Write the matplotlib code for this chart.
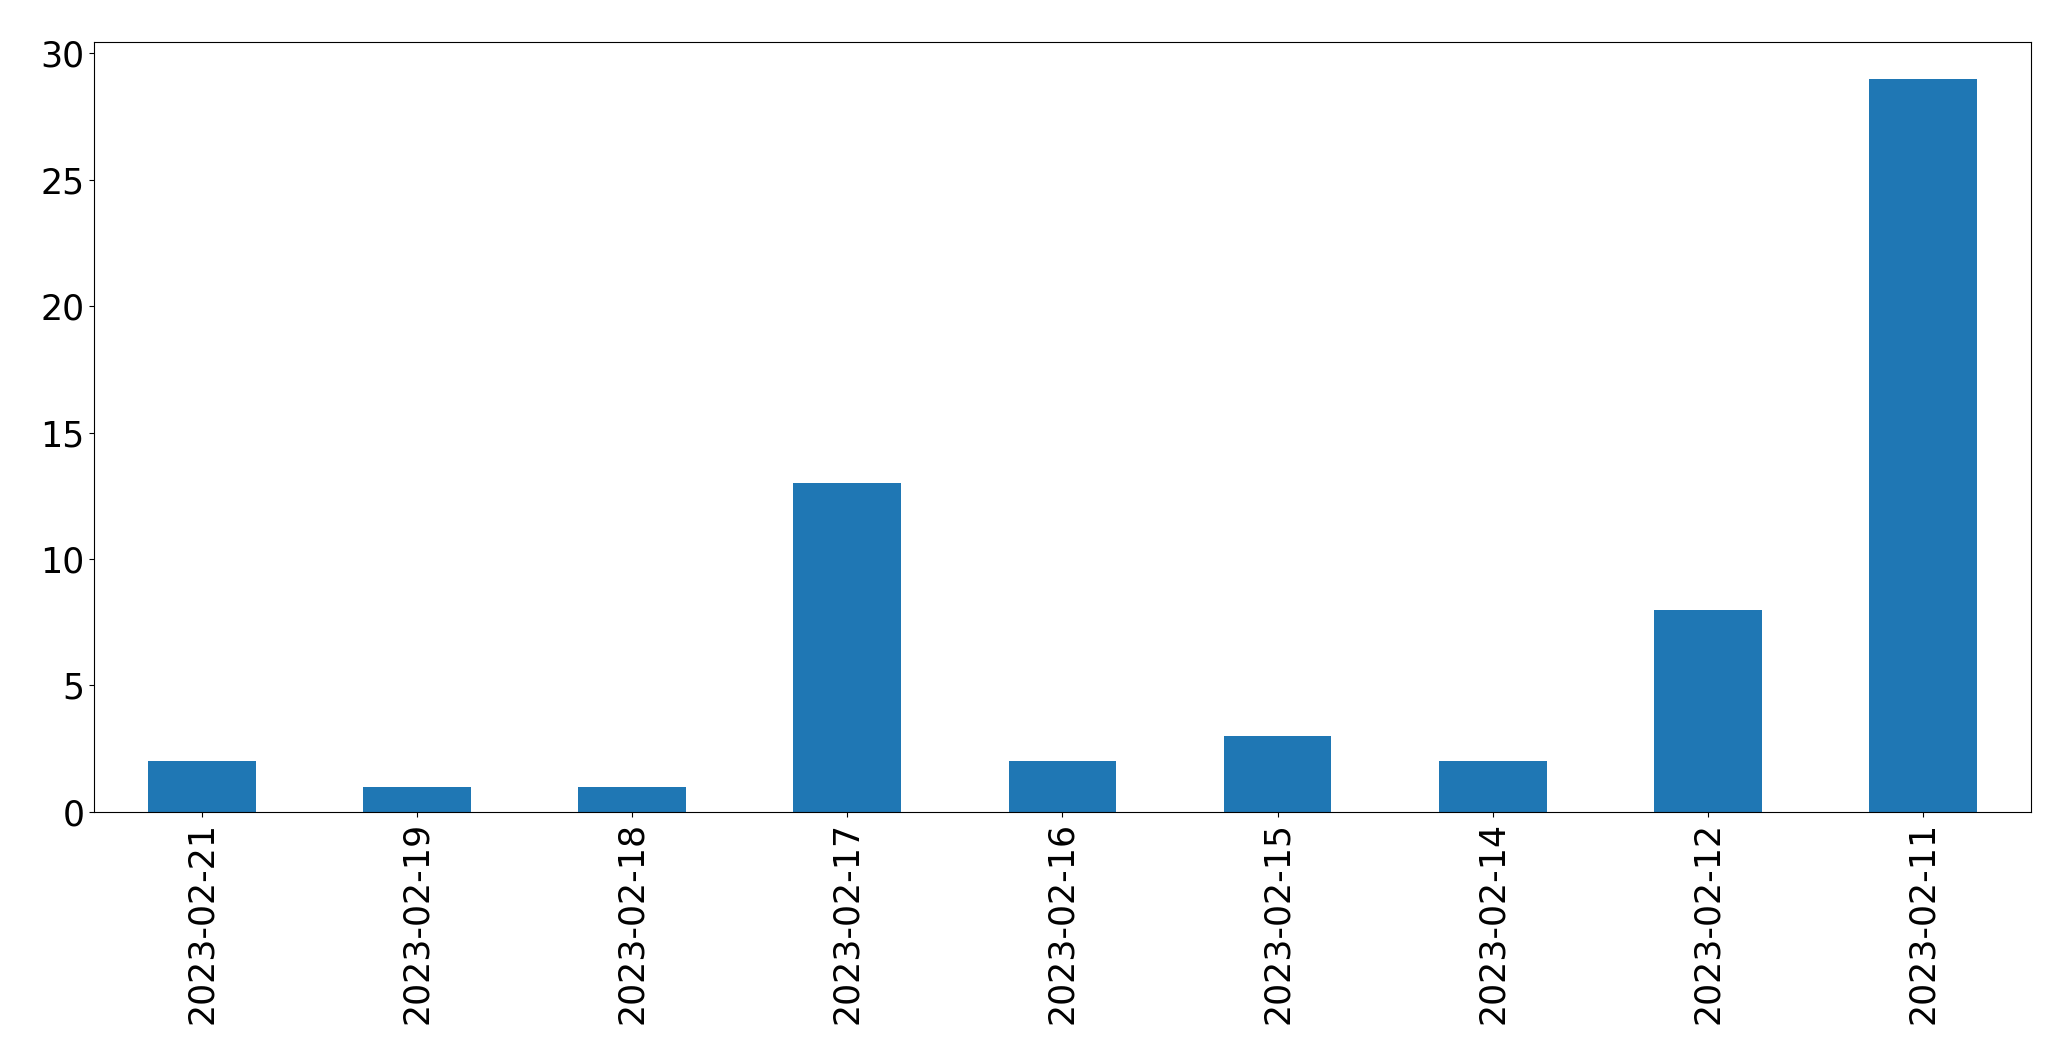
import matplotlib
matplotlib.use("Agg")
import matplotlib.pyplot as plt
import numpy as np

DATES = ["2023-02-21", "2023-02-19", "2023-02-18", "2023-02-17", "2023-02-16",
         "2023-02-15", "2023-02-14", "2023-02-12", "2023-02-11"]
COUNTS = [2, 1, 1, 13, 2, 3, 2, 8, 29]

fig = plt.figure(figsize=(20.71, 10.64), dpi=100)
ax = fig.add_axes([0.0455, 0.237, 0.9350, 0.7235])

x = np.arange(len(DATES))
ax.bar(x, COUNTS, width=0.5, color="#1f77b4")
ax.set_xlim(-0.5, len(DATES) - 0.5)
ax.set_ylim(0, max(COUNTS) * 1.05)
ax.set_xticks(x)
ax.set_xticklabels(DATES, rotation=90)
ax.set_yticks([0, 5, 10, 15, 20, 25, 30])
ax.tick_params(labelsize=25)

fig.savefig("out.png", dpi=100)
